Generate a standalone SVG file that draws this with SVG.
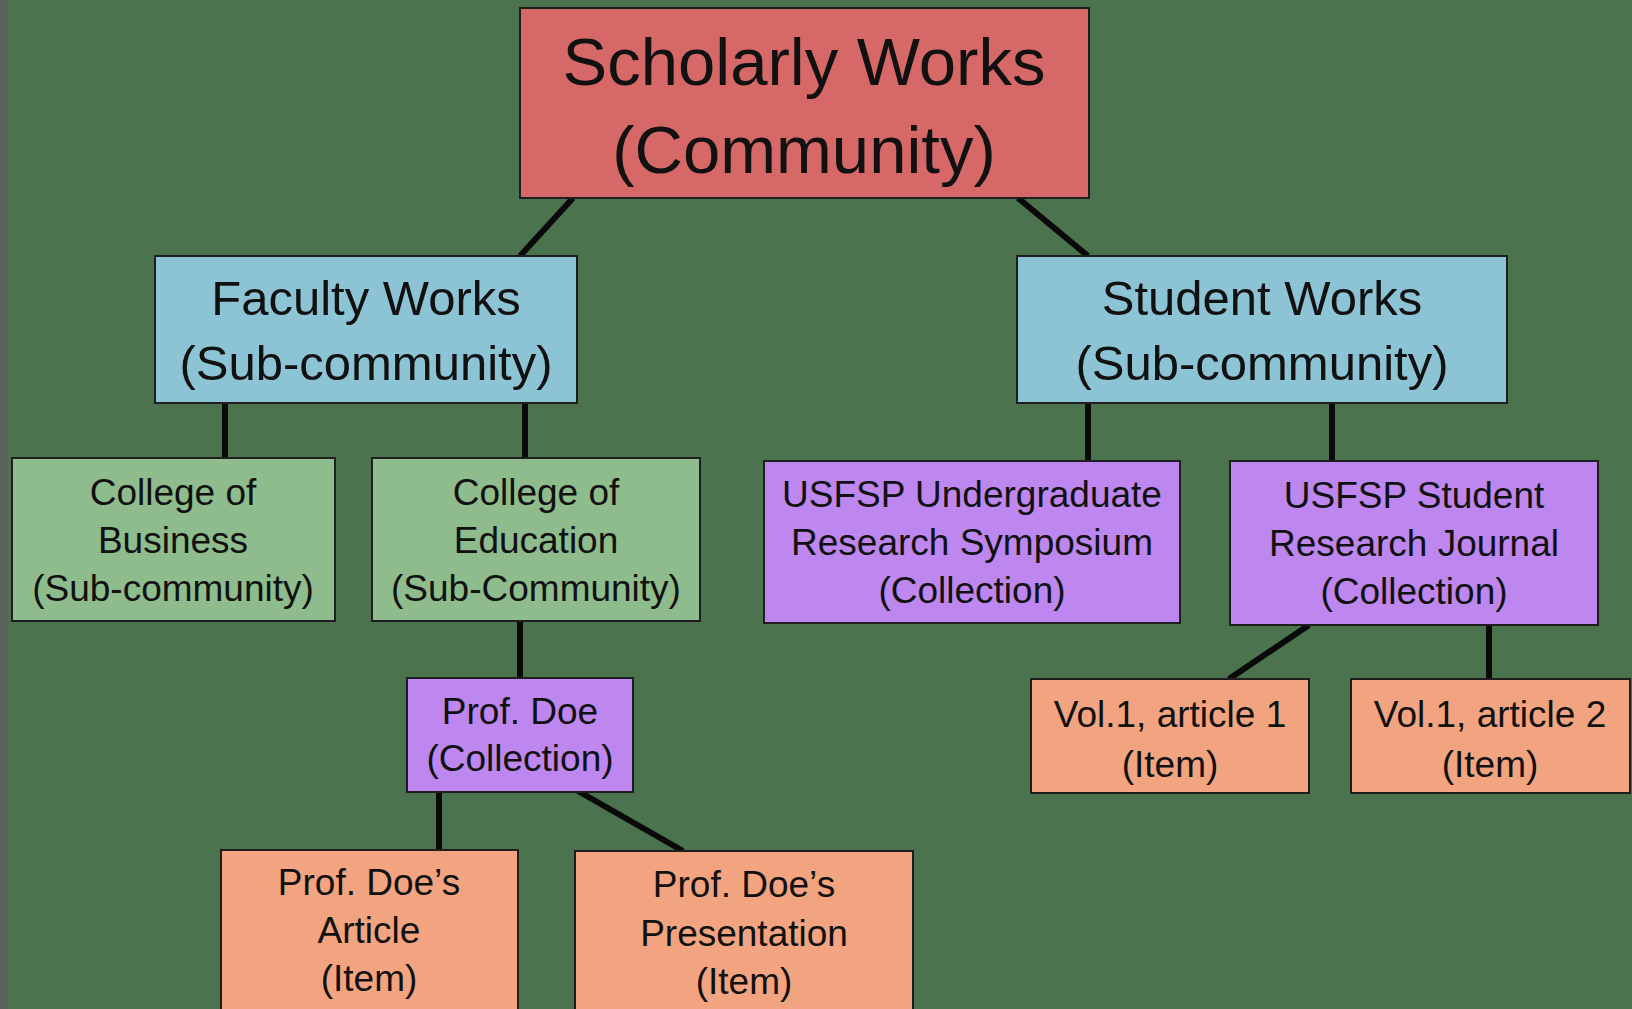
<svg xmlns="http://www.w3.org/2000/svg" width="1632" height="1009" viewBox="0 0 1632 1009">
<style>
.bx{stroke:#1e1e1e;stroke-width:2}
.red{fill:#d66868}
.blue{fill:#8cc4d6}
.lg{fill:#8fbc8c}
.pur{fill:#be86ef}
.sal{fill:#f2a480}
text{font-family:"Liberation Sans",Arial,sans-serif;fill:#111;text-anchor:middle}
.t1{font-size:67px}
.t2{font-size:49px}
.t3{font-size:37px}
.c line{stroke:#0a0a0a;stroke-width:6;stroke-linecap:butt}
</style>
<rect x="0" y="0" width="1632" height="1009" fill="#4b744e"/>
<rect x="0" y="0" width="8" height="1009" fill="#58625b"/>
<g class="c" id="connectors">
<line x1="573" y1="198" x2="520" y2="256" stroke-width="5"/>
<line x1="1018" y1="198" x2="1088" y2="256" stroke-width="5"/>
<line x1="225" y1="403" x2="225" y2="458"/>
<line x1="525" y1="403" x2="525" y2="458"/>
<line x1="1088" y1="403" x2="1088" y2="461"/>
<line x1="1332" y1="403" x2="1332" y2="461"/>
<line x1="520" y1="621" x2="520" y2="678"/>
<line x1="439" y1="792" x2="439" y2="850"/>
<line x1="578" y1="791" x2="683" y2="851" stroke-width="5"/>
<line x1="1309" y1="625" x2="1229" y2="679" stroke-width="5"/>
<line x1="1489" y1="625" x2="1489" y2="679"/>
</g>
<g id="scholarly">
<rect class="bx red" x="520" y="8" width="569" height="190"/>
<text class="t1" x="804" y="85">Scholarly Works</text>
<text class="t1" x="804" y="173">(Community)</text>
</g>
<g id="faculty">
<rect class="bx blue" x="155" y="256" width="422" height="147"/>
<text class="t2" x="366" y="315">Faculty Works</text>
<text class="t2" x="366" y="380">(Sub-community)</text>
</g>
<g id="student">
<rect class="bx blue" x="1017" y="256" width="490" height="147"/>
<text class="t2" x="1262" y="315">Student Works</text>
<text class="t2" x="1262" y="380">(Sub-community)</text>
</g>
<g id="business">
<rect class="bx lg" x="12" y="458" width="323" height="163"/>
<text class="t3" x="173" y="505">College of</text>
<text class="t3" x="173" y="553">Business</text>
<text class="t3" x="173" y="601">(Sub-community)</text>
</g>
<g id="education">
<rect class="bx lg" x="372" y="458" width="328" height="163"/>
<text class="t3" x="536" y="505">College of</text>
<text class="t3" x="536" y="553">Education</text>
<text class="t3" x="536" y="601">(Sub-Community)</text>
</g>
<g id="symposium">
<rect class="bx pur" x="764" y="461" width="416" height="162"/>
<text class="t3" x="972" y="507">USFSP Undergraduate</text>
<text class="t3" x="972" y="555">Research Symposium</text>
<text class="t3" x="972" y="603">(Collection)</text>
</g>
<g id="journal">
<rect class="bx pur" x="1230" y="461" width="368" height="164"/>
<text class="t3" x="1414" y="508">USFSP Student</text>
<text class="t3" x="1414" y="556">Research Journal</text>
<text class="t3" x="1414" y="604">(Collection)</text>
</g>
<g id="profdoe">
<rect class="bx pur" x="407" y="678" width="226" height="114"/>
<text class="t3" x="520" y="724">Prof. Doe</text>
<text class="t3" x="520" y="771">(Collection)</text>
</g>
<g id="article">
<rect class="bx sal" x="221" y="850" width="297" height="170"/>
<text class="t3" x="369" y="895">Prof. Doe’s</text>
<text class="t3" x="369" y="943">Article</text>
<text class="t3" x="369" y="991">(Item)</text>
</g>
<g id="presentation">
<rect class="bx sal" x="575" y="851" width="338" height="170"/>
<text class="t3" x="744" y="897">Prof. Doe’s</text>
<text class="t3" x="744" y="946">Presentation</text>
<text class="t3" x="744" y="994">(Item)</text>
</g>
<g id="vol1a1">
<rect class="bx sal" x="1031" y="679" width="278" height="114"/>
<text class="t3" x="1170" y="727">Vol.1, article 1</text>
<text class="t3" x="1170" y="777">(Item)</text>
</g>
<g id="vol1a2">
<rect class="bx sal" x="1351" y="679" width="279" height="114"/>
<text class="t3" x="1490" y="727">Vol.1, article 2</text>
<text class="t3" x="1490" y="777">(Item)</text>
</g>
</svg>
